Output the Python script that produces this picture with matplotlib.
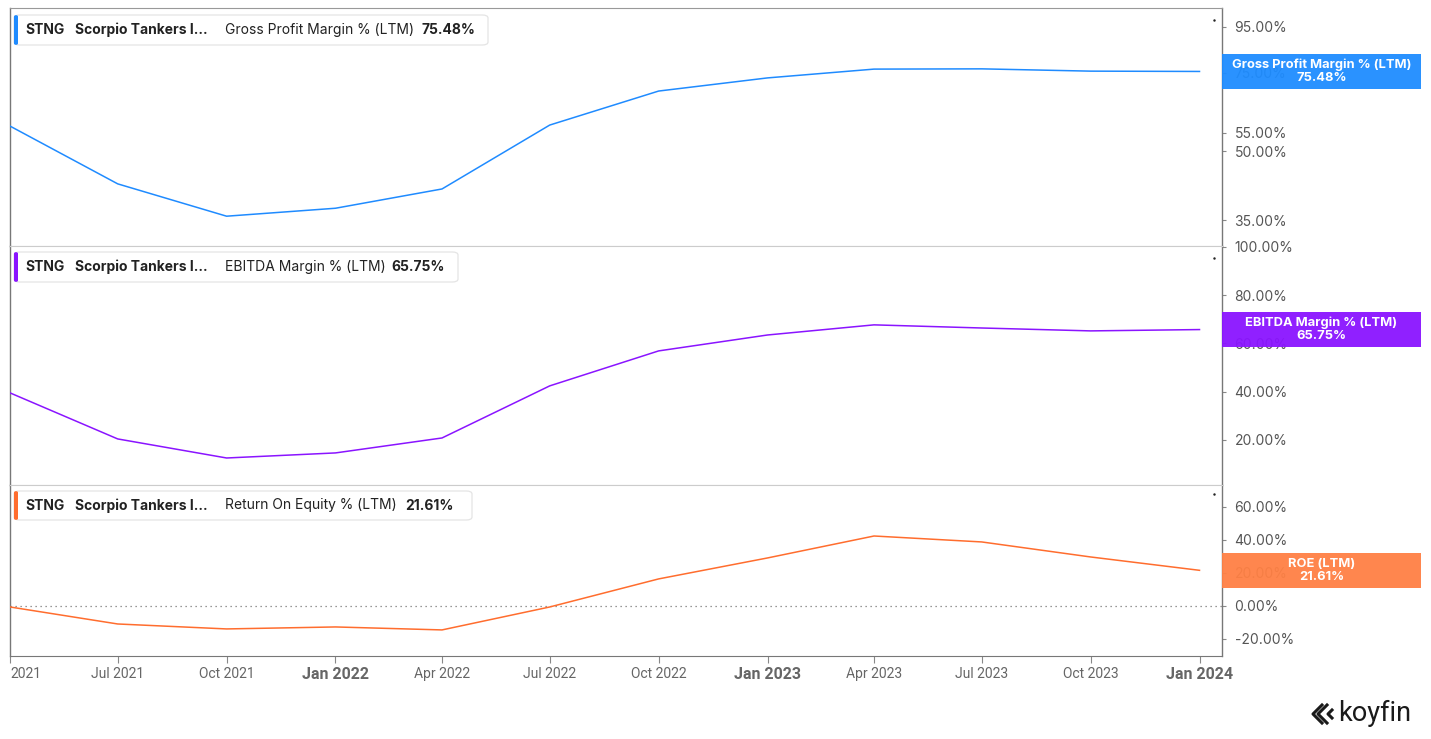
import matplotlib.pyplot as plt
import matplotlib.dates as mdates
from matplotlib.patches import FancyBboxPatch, Rectangle
import pandas as pd

plt.rcParams['font.family'] = ['Inter', 'DejaVu Sans']

# quarterly LTM values
dates = pd.to_datetime(['2021-04-01', '2021-07-01', '2021-10-01', '2022-01-01',
                        '2022-04-01', '2022-07-01', '2022-10-01', '2023-01-01',
                        '2023-04-01', '2023-07-01', '2023-10-01', '2024-01-01'])
gross_margin = [56.9, 42.2, 35.7, 37.2, 41.1, 57.2, 68.2, 73.0, 76.4, 76.5, 75.6, 75.48]
ebitda_margin = [39.5, 20.4, 12.5, 14.6, 20.8, 42.4, 56.9, 63.5, 67.7, 66.4, 65.2, 65.75]
roe = [-0.6, -10.9, -13.9, -12.7, -14.5, -0.6, 16.4, 29.1, 42.4, 38.8, 29.7, 21.61]

metric_names = ['Gross Profit Margin % (LTM)', 'EBITDA Margin % (LTM)', 'Return On Equity % (LTM)']
short_names = ['Gross Profit Margin % (LTM)', 'EBITDA Margin % (LTM)', 'ROE (LTM)']
colors = ['#1f8bff', '#8a14ff', '#ff6d2e']
box_colors = ['#1e8cff', '#8a14ff', '#ff8044']
y_ticks = [[35, 50, 55, 75, 95], [20, 40, 60, 80, 100], [-20, 0, 20, 40, 60]]
y_limits = [(30.6, 104.8), (1.3, 100.4), (-30.3, 73.3)]

W, H = 1431, 739
fig = plt.figure(figsize=(W / 100, H / 100), dpi=100)

def fx(px):
    return px / W

def fy(py):
    return 1 - py / H

panel_px = [(8, 246), (246, 485), (485, 656)]
left_px, right_px = 10, 1222
series = [gross_margin, ebitda_margin, roe]

axes = []
for i, (top, bot) in enumerate(panel_px):
    ax = fig.add_axes([fx(left_px), fy(bot), fx(right_px - left_px), (bot - top) / H])
    axes.append(ax)
    ax.plot(dates, series[i], color=colors[i], lw=1.1, zorder=3)
    if i == 0:
        ax.set_yscale('log')
    ax.set_ylim(*y_limits[i])
    ax.set_xlim(pd.Timestamp('2021-04-01'), pd.Timestamp('2024-01-20'))
    ax.yaxis.tick_right()
    ax.set_yticks(y_ticks[i])
    ax.yaxis.set_minor_locator(plt.NullLocator())
    ax.set_yticklabels([f'{v:.2f}%' for v in y_ticks[i]])
    ax.tick_params(axis='y', direction='out', length=3, width=0.8, color='#888888',
                   labelsize=10, labelcolor='#555555', pad=6)
    for side in ['left', 'right']:
        ax.spines[side].set_color('#777777')
        ax.spines[side].set_linewidth(1.0)
    ax.spines['top'].set_color('#cccccc')
    ax.spines['bottom'].set_color('#cccccc')
    if i == 0:
        ax.spines['top'].set_color('#999999')
    if i < 2:
        ax.tick_params(axis='x', which='both', bottom=False, labelbottom=False)
    # tiny dot near top right corner
    ax.plot([0.9935], [0.95], marker='.', ms=1.5, color='#222222', transform=ax.transAxes)

# zero line on ROE panel
axes[2].axhline(0, color='#777777', lw=0.9, ls=(0, (1, 3)), zorder=2)

# x axis on bottom panel
axb = axes[2]
axb.spines['bottom'].set_color('#777777')
axb.xaxis.set_major_locator(mdates.MonthLocator(bymonth=[1, 4, 7, 10]))
axb.xaxis.set_major_formatter(mdates.DateFormatter('%b %Y'))
axb.tick_params(axis='x', direction='out', length=5, color='#888888', labelsize=10,
                labelcolor='#666666', pad=3)
fig.canvas.draw()
axb.set_xticklabels([('2021' if l.get_text() == 'Apr 2021' else l.get_text())
                     for l in axb.get_xticklabels()])
for lbl in axb.get_xticklabels():
    lbl.set_fontfamily(['Roboto', 'DejaVu Sans'])
    if lbl.get_text().startswith('Jan'):
        lbl.set_fontweight('bold')
        lbl.set_fontsize(11.5)
    if lbl.get_text() == '2021':
        lbl.set_horizontalalignment('left')

# legend boxes at top left of each panel
legend_px = [(15, 45, 488), (252, 282, 458), (491, 520, 472)]
value_x = [421, 391, 405]
for i, (t, b, r) in enumerate(legend_px):
    box = FancyBboxPatch((fx(14), fy(b)), fx(r - 14), (b - t) / H,
                         boxstyle='round,pad=0,rounding_size=0.004',
                         transform=fig.transFigure, facecolor='white',
                         edgecolor='#e4e4e4', lw=0.9, zorder=10)
    fig.patches.append(box)
    bar = FancyBboxPatch((fx(14), fy(b)), fx(4), (b - t) / H,
                         boxstyle='round,pad=0,rounding_size=0.002',
                         transform=fig.transFigure, facecolor=colors[i],
                         edgecolor='none', zorder=11)
    fig.patches.append(bar)
    yc = fy((t + b) / 2)
    fig.text(fx(25), yc, 'STNG', fontsize=10, fontweight='bold', color='#222222',
             va='center', zorder=12)
    fig.text(fx(75), yc, 'Scorpio Tankers I…', fontsize=10, fontweight='bold',
             color='#222222', va='center', zorder=12)
    fig.text(fx(225), yc, metric_names[i], fontsize=10, color='#222222',
             va='center', zorder=12)
    fig.text(fx(value_x[i]), yc, f'{series[i][-1]:.2f}%', fontsize=10,
             fontweight='bold', color='#222222', va='center', zorder=12)

# last value labels on the right
for i, ax in enumerate(axes):
    last = series[i][-1]
    ydisp = ax.transData.transform((mdates.date2num(dates[-1]), last))[1]
    yfrac = ydisp / fig.bbox.height
    h = 35 / H
    rect = Rectangle((fx(right_px), yfrac - h / 2), fx(1421 - right_px), h,
                     transform=fig.transFigure, facecolor=box_colors[i],
                     edgecolor='none', alpha=0.95, zorder=10)
    fig.patches.append(rect)
    xc = fx((right_px + 1421) / 2)
    fig.text(xc, yfrac + 6.5 / H, short_names[i], fontsize=9.3, fontweight='bold',
             color='white', ha='center', va='center', zorder=12)
    fig.text(xc, yfrac - 6.5 / H, f'{last:.2f}%', fontsize=9.3, fontweight='bold',
             color='white', ha='center', va='center', zorder=12)

# koyfin logo
lx, ly = 1322, 714
logo = [[(0, 0), (-9, -9), (0, -18)], [(5, 0), (-4, -9), (5, -18)],
        [(10, -5), (6, -9), (10, -13)]]
for seg in logo:
    xs = [fx(lx + p[0]) for p in seg]
    ys = [fy(ly + p[1] + 9) for p in seg]
    fig.add_artist(plt.Line2D(xs, ys, color='#1a1a1a', lw=2.2, transform=fig.transFigure))
fig.text(fx(1338), fy(713), 'koyfin', fontsize=19.5, color='#1a1a1a', va='center',
         fontfamily=['Roboto', 'DejaVu Sans'])

fig.savefig('out.png', dpi=100)
